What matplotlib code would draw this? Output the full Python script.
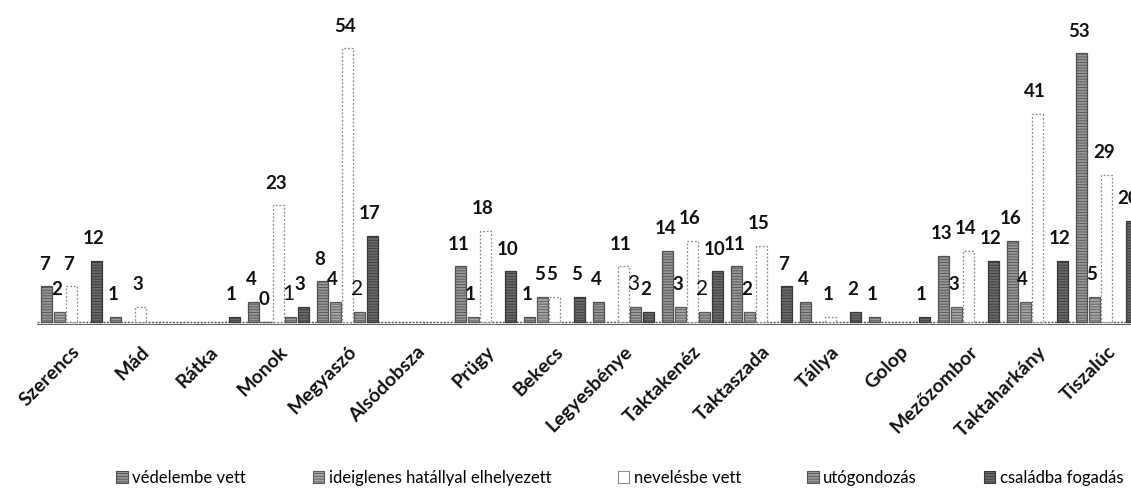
import numpy as np
import matplotlib
matplotlib.use("Agg")
import matplotlib.pyplot as plt
from matplotlib.patches import Patch

nan = np.nan
categories = ["Szerencs", "Mád", "Rátka", "Monok", "Megyaszó", "Alsódobsza", "Prügy",
              "Bekecs", "Legyesbénye", "Taktakenéz", "Taktaszada", "Tállya", "Golop",
              "Mezőzombor", "Taktaharkány", "Tiszalúc"]
series_names = ["védelembe vett", "ideiglenes hatállyal elhelyezett", "nevelésbe vett",
                "utógondozás", "családba fogadás"]
vedelembe = [7, 1, nan, 4, 8, nan, 11, 1, 4, 14, 11, 4, 1, 13, 16, 53]
ideiglenes = [2, nan, nan, 0, 4, nan, 1, 5, nan, 3, 2, nan, nan, 3, 4, 5]
nevelesbe = [7, 3, nan, 23, 54, nan, 18, 5, 11, 16, 15, 1, nan, 14, 41, 29]
utogondozas = [nan, nan, nan, 1, 2, nan, nan, nan, 3, 2, nan, nan, nan, nan, nan, nan]
csaladba = [12, nan, 1, 3, 17, nan, 10, 5, 2, 10, 7, 2, 1, 12, 12, 20]
series = [vedelembe, ideiglenes, nevelesbe, utogondozas, csaladba]

faces = ["#979797", "#a5a5a5", "#ffffff", "#9c9c9c", "#6a6a6a"]
edges = ["#505050", "#5a5a5a", "#8a8a8a", "#555555", "#383838"]
hatches = ["------", "------", None, "------", "------"]
label_weights = ["bold", "bold", "bold", "normal", "bold"]

plt.rcParams["font.family"] = ["Lato", "DejaVu Sans"]
plt.rcParams["hatch.linewidth"] = 0.6

fig = plt.figure(figsize=(11.31, 4.96), dpi=100)
ax = fig.add_axes([37 / 1131, (496 - 325) / 496, 1104 / 1131, 330 / 496])

x = np.arange(len(categories))
slot = 0.178
width = 0.16
for k, vals in enumerate(series):
    v = np.array(vals, dtype=float)
    xs = x + (k - 2) * slot
    mask = ~np.isnan(v)
    ls = (0, (1.5, 1.5)) if k == 2 else "solid"
    ax.bar(xs[mask], v[mask], width=width, color=faces[k], edgecolor=edges[k],
           linewidth=0.9, hatch=hatches[k], linestyle=ls, zorder=3)
    for xi, vi in zip(xs[mask], v[mask]):
        fs = 15 if label_weights[k] == "normal" else 13.5
        ax.annotate(f"{int(vi)}", (xi, vi), xytext=(-2, 12), textcoords="offset points",
                    ha="center", va="baseline", fontsize=fs,
                    fontweight=label_weights[k], color="#111111", zorder=5)

ax.set_xlim(-0.5, len(categories) - 0.5)
ax.set_ylim(-0.6, 64.5)
ax.axhline(0, color="#555555", lw=1.0, linestyle=(0, (1.5, 1)), zorder=2)
ax.axhline(-0.55, color="#333333", lw=1.8, zorder=2)
for s in ax.spines.values():
    s.set_visible(False)
ax.set_yticks([])
ax.set_xticks(x)
ax.set_xticklabels(categories, rotation=45, ha="right", va="top",
                   rotation_mode="anchor", fontsize=14, fontweight="bold", color="#111111")
ax.tick_params(axis="x", length=0, pad=13)

handles = [Patch(facecolor=faces[k], edgecolor=edges[k], hatch=hatches[k], linewidth=0.8)
           for k in range(5)]
fig.legend(handles, series_names, loc="center", bbox_to_anchor=(0.548, 0.036), ncol=5,
           frameon=False, fontsize=12, handlelength=0.7, handleheight=0.7,
           handletextpad=0.25, columnspacing=4.0)

fig.savefig("out.png", dpi=100, facecolor="white")
